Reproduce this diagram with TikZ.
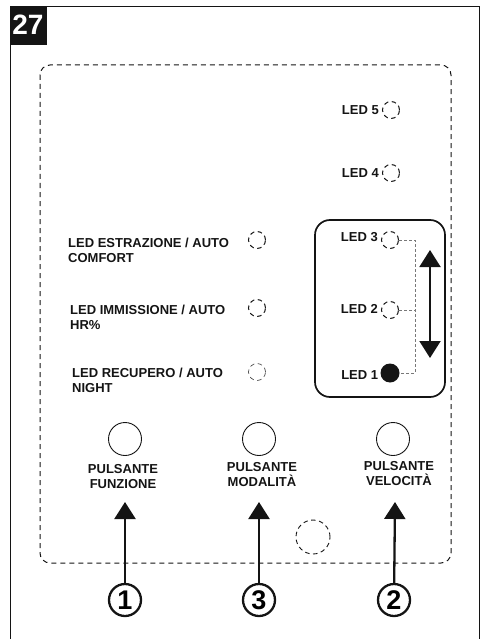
\documentclass[tikz,border=0pt]{standalone}
\usepackage{fontspec}
\setmainfont{Liberation Sans}
\usepackage{tikz}
\usetikzlibrary{
  arrows.meta,
  positioning
}
\definecolor{inkblack}{RGB}{20,20,20}
\definecolor{dashgray}{RGB}{50,50,50}
\definecolor{linkgray}{RGB}{120,120,120}
\tikzset{
  lbl/.style={font=\fontsize{13}{15}\selectfont\bfseries,text=inkblack,
    inner sep=0pt,align=left},
  btnlbl/.style={font=\fontsize{13}{15}\selectfont\bfseries,text=inkblack,
    inner sep=0pt,align=center},
  ledoff/.style={circle,draw=inkblack,line width=1pt,
    dash pattern=on 4.5pt off 3.5pt,minimum size=17pt,inner sep=0pt},
  ledfaint/.style={ledoff,line width=0.6pt,draw=dashgray},
  ledon/.style={circle,fill=inkblack,minimum size=19pt,inner sep=0pt},
  button/.style={circle,draw=inkblack,line width=0.9pt,minimum size=33pt,
    inner sep=0pt},
  numbadge/.style={circle,draw=inkblack,line width=2.3pt,minimum size=32pt,
    inner sep=0pt,font=\fontsize{27}{27}\selectfont\bfseries},
  pusharrow/.style={-{Triangle[length=17pt,width=21pt]},line width=2.3pt,
    draw=inkblack},
  linkline/.style={draw=linkgray,line width=0.6pt,dash pattern=on 3pt off 2pt}
}
\begin{document}
\begin{tikzpicture}[x=1pt,y=-1pt,node distance=3pt]
  \useasboundingbox (0,0) rectangle (481,639);
  % frame and number tab
  \draw[line width=0.9pt,draw=inkblack] (10,6) rectangle (479,639);
  \fill[inkblack] (10,6) rectangle (47,45);
  \node[font=\fontsize{28}{28}\selectfont\bfseries,text=white,inner sep=0pt]
    (tab) at (28,25) {27};
  % panel outline
  \draw[draw=inkblack,line width=1pt,dash pattern=on 5pt off 4pt,
    rounded corners=10pt] (40,65) rectangle (451,563);
  \draw[line width=1.7pt,draw=inkblack,rounded corners=15pt]
    (315,220) rectangle (445,397);
  % speed leds
  \node[ledoff] (led5) at (391,110) {};
  \node[lbl,left=of led5] (led5lbl) {LED 5};
  \node[ledoff] (led4) at (391,173) {};
  \node[lbl,left=of led4] (led4lbl) {LED 4};
  \node[ledoff] (led3) at (390,240) {};
  \node[lbl,left=of led3,yshift=3pt] (led3lbl) {LED 3};
  \node[ledoff] (led2) at (390,310) {};
  \node[lbl,left=of led2,yshift=1pt] (led2lbl) {LED 2};
  \node[ledon] (led1) at (390,373) {};
  \node[lbl,left=2pt of led1,yshift=-2pt] (led1lbl) {LED 1};
  \coordinate (rail3) at (415,240);
  \coordinate (rail2) at (415,310);
  \coordinate (rail1) at (415,373);
  \draw[linkline] (led3.east) -- (rail3) -- (rail1) -- (led1.east);
  \draw[linkline] (led2.east) -- (rail2);
  \coordinate (speedup) at (430,250);
  \coordinate (speeddn) at (430,358);
  \draw[{Triangle[length=17pt,width=21pt]}-{Triangle[length=17pt,width=21pt]},
    line width=2pt,draw=inkblack] (speeddn) -- (speedup);
  % mode leds
  \node[ledoff] (ledextr) at (257,240) {};
  \node[lbl,anchor=west] (extrlbl) at (68,250) {LED ESTRAZIONE / AUTO\\COMFORT};
  \node[ledoff] (ledimm) at (257,308) {};
  \node[lbl,anchor=west] (immlbl) at (70,317) {LED IMMISSIONE / AUTO\\HR\%};
  \node[ledfaint] (ledrec) at (257,372) {};
  \node[lbl,anchor=west] (reclbl) at (72,380) {LED RECUPERO / AUTO\\NIGHT};
  % buttons
  \node[button] (btnfun) at (125,439) {};
  \node[btnlbl] (funlbl) at (123,477) {PULSANTE\\FUNZIONE};
  \node[button] (btnmod) at (259,439) {};
  \node[btnlbl] (modlbl) at (262,475) {PULSANTE\\MODALITÀ};
  \node[button] (btnvel) at (393,439) {};
  \node[btnlbl] (vellbl) at (399,474) {PULSANTE\\VELOCITÀ};
  \node[circle,draw=inkblack,line width=0.9pt,dash pattern=on 4.5pt off 3.5pt,
    minimum size=34pt] (sensor) at (313,537) {};
  % numbered callouts
  \node[numbadge] (num1) at (125,600) {1};
  \node[numbadge] (num3) at (259,600) {3};
  \node[numbadge] (num2) at (394,600) {2};
  \coordinate (tipfun) at (125,502);
  \coordinate (tipmod) at (259,502);
  \coordinate (tipvel) at (395,502);
  \draw[pusharrow] (num1) -- (tipfun);
  \draw[pusharrow] (num3) -- (tipmod);
  \draw[pusharrow] (num2) -- (tipvel);
\end{tikzpicture}
\end{document}
